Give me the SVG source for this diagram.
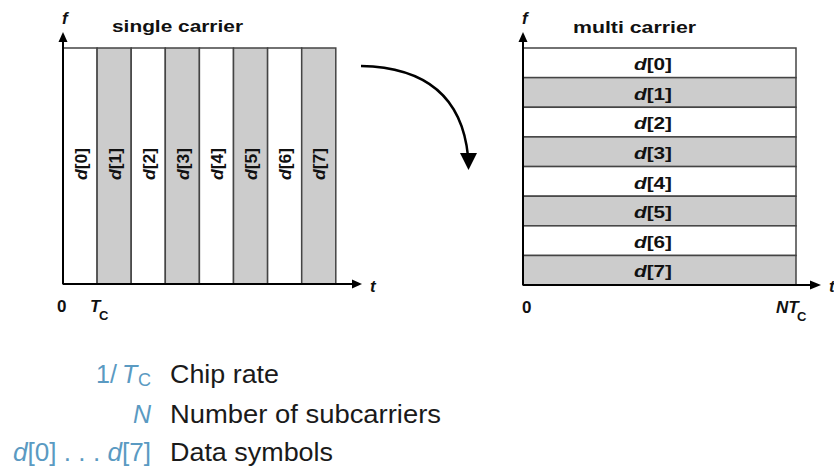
<svg xmlns="http://www.w3.org/2000/svg" width="834" height="470" viewBox="0 0 834 470">
  <style>
    .w { fill: #ffffff; stroke: #444444; stroke-width: 1.5; }
    .g { fill: #cccccc; stroke: #444444; stroke-width: 1.5; }
    .ax { stroke: #000000; stroke-width: 2; fill: none; }
    .ah { fill: #000000; }
    .lbl { font-family: "Liberation Sans", Arial, sans-serif; font-weight: bold; font-size: 16px; fill: #111111; }
    .rl { font-size: 17px; }
    .ttl { font-family: "Liberation Sans", Arial, sans-serif; font-weight: bold; font-size: 17px; fill: #111111; }
    .axl { font-family: "Liberation Sans", Arial, sans-serif; font-weight: bold; font-size: 17px; fill: #111111; }
    .sub { font-size: 13px; }
    .it { font-style: italic; }
    .leg { font-family: "Liberation Sans", Arial, sans-serif; font-size: 25px; fill: #1a1a1a; }
    .sym { font-family: "Liberation Sans", Arial, sans-serif; font-size: 25px; fill: #5a9ac2; }
    .symsub { font-size: 18px; }
  </style>

  <!-- Left panel: single carrier -->
  <g id="single-carrier">
    <g id="sc0"><rect class="w" x="63" y="48" width="34.1" height="236"/><text class="lbl rl" transform="translate(86.5,164) rotate(-90)" text-anchor="middle" textLength="32" lengthAdjust="spacingAndGlyphs"><tspan class="it">d</tspan>[0]</text></g>
    <g id="sc1"><rect class="g" x="97.1" y="48" width="34.1" height="236"/><text class="lbl rl" transform="translate(120.7,164) rotate(-90)" text-anchor="middle" textLength="32" lengthAdjust="spacingAndGlyphs"><tspan class="it">d</tspan>[1]</text></g>
    <g id="sc2"><rect class="w" x="131.2" y="48" width="34.1" height="236"/><text class="lbl rl" transform="translate(154.8,164) rotate(-90)" text-anchor="middle" textLength="32" lengthAdjust="spacingAndGlyphs"><tspan class="it">d</tspan>[2]</text></g>
    <g id="sc3"><rect class="g" x="165.3" y="48" width="34.1" height="236"/><text class="lbl rl" transform="translate(188.9,164) rotate(-90)" text-anchor="middle" textLength="32" lengthAdjust="spacingAndGlyphs"><tspan class="it">d</tspan>[3]</text></g>
    <g id="sc4"><rect class="w" x="199.4" y="48" width="34.1" height="236"/><text class="lbl rl" transform="translate(223,164) rotate(-90)" text-anchor="middle" textLength="32" lengthAdjust="spacingAndGlyphs"><tspan class="it">d</tspan>[4]</text></g>
    <g id="sc5"><rect class="g" x="233.5" y="48" width="34.1" height="236"/><text class="lbl rl" transform="translate(257.1,164) rotate(-90)" text-anchor="middle" textLength="32" lengthAdjust="spacingAndGlyphs"><tspan class="it">d</tspan>[5]</text></g>
    <g id="sc6"><rect class="w" x="267.6" y="48" width="34.1" height="236"/><text class="lbl rl" transform="translate(291.2,164) rotate(-90)" text-anchor="middle" textLength="32" lengthAdjust="spacingAndGlyphs"><tspan class="it">d</tspan>[6]</text></g>
    <g id="sc7"><rect class="g" x="301.7" y="48" width="34.1" height="236"/><text class="lbl rl" transform="translate(325.3,164) rotate(-90)" text-anchor="middle" textLength="32" lengthAdjust="spacingAndGlyphs"><tspan class="it">d</tspan>[7]</text></g>
    <text class="ttl" x="112" y="32" textLength="131" lengthAdjust="spacingAndGlyphs">single carrier</text>
    <!-- axes -->
    <line class="ax" x1="63" y1="284" x2="353" y2="284"/>
    <polygon class="ah" points="352,279.5 362,284 352,288.5"/>
    <line class="ax" x1="63" y1="284" x2="63" y2="41"/>
    <polygon class="ah" points="58.5,42 63,32 67.5,42"/>
    <text class="axl it" x="62" y="24">f</text>
    <text class="axl it" x="370" y="292">t</text>
    <text class="axl" x="57" y="312">0</text>
    <text class="axl it" x="90" y="312">T</text>
    <text class="axl sub" x="99" y="320">C</text>
  </g>

  <!-- Right panel: multi carrier -->
  <g id="multi-carrier">
    <g id="mc0"><rect class="w" x="523" y="48" width="273" height="29.64"/><text class="lbl" x="653" y="70" text-anchor="middle" textLength="38" lengthAdjust="spacingAndGlyphs"><tspan class="it">d</tspan>[0]</text></g>
    <g id="mc1"><rect class="g" x="523" y="77.64" width="273" height="29.64"/><text class="lbl" x="653" y="99.64" text-anchor="middle" textLength="38" lengthAdjust="spacingAndGlyphs"><tspan class="it">d</tspan>[1]</text></g>
    <g id="mc2"><rect class="w" x="523" y="107.28" width="273" height="29.64"/><text class="lbl" x="653" y="129.28" text-anchor="middle" textLength="38" lengthAdjust="spacingAndGlyphs"><tspan class="it">d</tspan>[2]</text></g>
    <g id="mc3"><rect class="g" x="523" y="136.92" width="273" height="29.64"/><text class="lbl" x="653" y="158.92" text-anchor="middle" textLength="38" lengthAdjust="spacingAndGlyphs"><tspan class="it">d</tspan>[3]</text></g>
    <g id="mc4"><rect class="w" x="523" y="166.56" width="273" height="29.64"/><text class="lbl" x="653" y="188.56" text-anchor="middle" textLength="38" lengthAdjust="spacingAndGlyphs"><tspan class="it">d</tspan>[4]</text></g>
    <g id="mc5"><rect class="g" x="523" y="196.2" width="273" height="29.64"/><text class="lbl" x="653" y="218.2" text-anchor="middle" textLength="38" lengthAdjust="spacingAndGlyphs"><tspan class="it">d</tspan>[5]</text></g>
    <g id="mc6"><rect class="w" x="523" y="225.84" width="273" height="29.64"/><text class="lbl" x="653" y="247.84" text-anchor="middle" textLength="38" lengthAdjust="spacingAndGlyphs"><tspan class="it">d</tspan>[6]</text></g>
    <g id="mc7"><rect class="g" x="523" y="255.48" width="273" height="29.64"/><text class="lbl" x="653" y="277.48" text-anchor="middle" textLength="38" lengthAdjust="spacingAndGlyphs"><tspan class="it">d</tspan>[7]</text></g>
    <text class="ttl" x="573" y="33" textLength="123" lengthAdjust="spacingAndGlyphs">multi carrier</text>
    <!-- axes -->
    <line class="ax" x1="523" y1="285" x2="811" y2="285"/>
    <polygon class="ah" points="810,280.5 821,285 810,289.5"/>
    <line class="ax" x1="523" y1="285" x2="523" y2="41"/>
    <polygon class="ah" points="518.5,42 523,32 527.5,42"/>
    <text class="axl it" x="522" y="24">f</text>
    <text class="axl it" x="829" y="292">t</text>
    <text class="axl" x="522" y="313">0</text>
    <text class="axl it" x="776" y="313">NT</text>
    <text class="axl sub" x="797" y="321">C</text>
  </g>

  <!-- Connectors -->
  <g id="connectors">
    <path d="M361,66 Q459,68 468,156" fill="none" stroke="#000000" stroke-width="2.5"/>
    <polygon class="ah" points="460,153 477,153 468.5,170"/>
  </g>

  <!-- Legend -->
  <g id="legend">
    <text class="sym" x="96" y="383">1</text>
    <text class="sym" x="110" y="383">/</text>
    <text class="sym it" x="122" y="383">T</text>
    <text class="sym symsub" x="138" y="386">C</text>
    <text class="leg" x="170" y="383" textLength="109" lengthAdjust="spacingAndGlyphs">Chip rate</text>
    <text class="sym it" x="151" y="423" text-anchor="end">N</text>
    <text class="leg" x="170" y="423" textLength="271" lengthAdjust="spacingAndGlyphs">Number of subcarriers</text>
    <text class="sym" x="13" y="461" textLength="138" lengthAdjust="spacingAndGlyphs"><tspan class="it">d</tspan>[0] . . . <tspan class="it">d</tspan>[7]</text>
    <text class="leg" x="170" y="461" textLength="163" lengthAdjust="spacingAndGlyphs">Data symbols</text>
  </g>
</svg>
